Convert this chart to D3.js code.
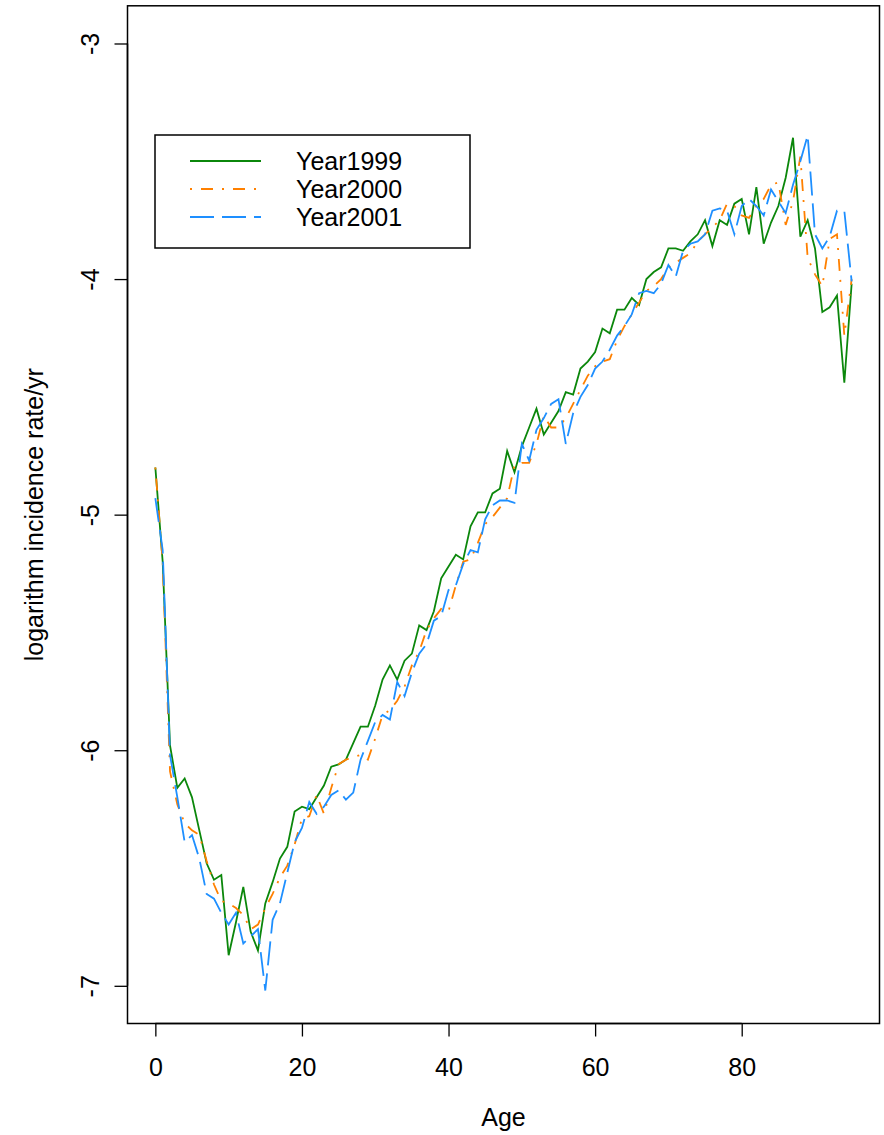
<!DOCTYPE html>
<html>
<head>
<meta charset="utf-8">
<script src="https://cdn.jsdelivr.net/npm/d3@7"></script>
<style>
  body { margin: 0; background: #fff; }
  svg { display: block; font-family: 'Liberation Sans', Arial, sans-serif; }
</style>
</head>
<body>
<script>
// ages 0..95
const ages = d3.range(0, 96);

const year1999 = [
  -4.80, -5.20, -5.98, -6.16, -6.12, -6.20, -6.34, -6.48, -6.55, -6.53,
  -6.87, -6.73, -6.58, -6.77, -6.85, -6.65, -6.56, -6.46, -6.41, -6.26,
  -6.24, -6.25, -6.20, -6.15, -6.07, -6.06, -6.04, -5.97, -5.90, -5.90,
  -5.81, -5.70, -5.64, -5.70, -5.62, -5.59, -5.47, -5.49, -5.41, -5.27,
  -5.22, -5.17, -5.19, -5.05, -4.99, -4.99, -4.91, -4.89, -4.73, -4.82,
  -4.71, -4.63, -4.55, -4.66, -4.61, -4.56, -4.48, -4.49, -4.38, -4.35,
  -4.31, -4.21, -4.23, -4.13, -4.13, -4.08, -4.11, -4.00, -3.97, -3.95,
  -3.87, -3.87, -3.88, -3.84, -3.81, -3.75, -3.86, -3.75, -3.77, -3.68,
  -3.66, -3.81, -3.61, -3.85, -3.76, -3.69, -3.57, -3.40, -3.82, -3.75,
  -3.87, -4.14, -4.12, -4.07, -4.44, -4.02
];

const year2000 = [
  -4.80, -5.20, -6.09, -6.23, -6.31, -6.34, -6.36, -6.47, -6.57, -6.64,
  -6.65, -6.67, -6.70, -6.76, -6.74, -6.67, -6.61, -6.54, -6.49, -6.40,
  -6.29, -6.28, -6.19, -6.27, -6.16, -6.06, -6.04, -6.03, -6.02, -6.04,
  -5.95, -5.85, -5.83, -5.79, -5.73, -5.64, -5.58, -5.49, -5.44, -5.40,
  -5.41, -5.30, -5.20, -5.19, -5.12, -5.04, -5.01, -4.97, -4.93, -4.79,
  -4.78, -4.78, -4.70, -4.58, -4.63, -4.63, -4.59, -4.53, -4.47, -4.41,
  -4.37, -4.35, -4.34, -4.26, -4.20, -4.15, -4.10, -4.05, -4.03, -4.00,
  -3.95, -3.93, -3.91, -3.89, -3.84, -3.81, -3.78, -3.75, -3.68, -3.69,
  -3.73, -3.74, -3.69, -3.66, -3.60, -3.59, -3.77, -3.67, -3.48, -3.91,
  -3.98, -4.03, -3.83, -3.81, -4.24, -4.00
];

const year2001 = [
  -4.93, -5.15, -6.02, -6.20, -6.39, -6.36, -6.46, -6.61, -6.63, -6.69,
  -6.74, -6.69, -6.82, -6.79, -6.76, -7.02, -6.72, -6.65, -6.52, -6.39,
  -6.33, -6.22, -6.27, -6.24, -6.19, -6.17, -6.21, -6.18, -6.04, -5.96,
  -5.88, -5.85, -5.87, -5.71, -5.77, -5.67, -5.59, -5.55, -5.45, -5.43,
  -5.32, -5.30, -5.21, -5.15, -5.16, -5.02, -4.96, -4.94, -4.94, -4.95,
  -4.70, -4.77, -4.64, -4.59, -4.53, -4.51, -4.70, -4.57, -4.50, -4.45,
  -4.38, -4.35, -4.30, -4.24, -4.20, -4.15, -4.06, -4.05, -4.06, -4.02,
  -3.94, -3.99, -3.88, -3.85, -3.84, -3.81, -3.71, -3.70, -3.71, -3.81,
  -3.69, -3.66, -3.69, -3.73, -3.62, -3.67, -3.72, -3.60, -3.50, -3.39,
  -3.81, -3.87, -3.82, -3.71, -3.71, -4.01
];

const seriesNames = ['Year1999', 'Year2000', 'Year2001'];
const xTicks = [0, 20, 40, 60, 80];
const yTicks = [-3, -4, -5, -6, -7];

const render = () => {
  const width = 884;
  const height = 1135;
  const fontSize = 25;

  const series = [
    { name: seriesNames[0], values: year1999, color: '#0b870b', dash: null },
    { name: seriesNames[1], values: year2000, color: '#ff8000', dash: '2,9,12,9' },
    { name: seriesNames[2], values: year2001, color: '#1e8fff', dash: '24,8' }
  ];

  const svg = d3.select('body')
    .append('svg')
    .attr('width', width)
    .attr('height', height);

  // plot region, R style: data range padded by 4%
  const xScale = d3.scaleLinear()
    .domain([-3.8, 98.8])
    .range([127.5, 879.5]);

  const yScale = d3.scaleLinear()
    .domain([-7.16, -2.84])
    .range([1023.5, 5.8]);

  const line = d3.line()
    .x((d, i) => xScale(ages[i]))
    .y(d => yScale(d));

  // lines
  svg.append('g')
    .selectAll('path')
    .data(series)
    .enter().append('path')
    .attr('d', d => line(d.values))
    .attr('fill', 'none')
    .attr('stroke', d => d.color)
    .attr('stroke-width', 1.8)
    .attr('stroke-dasharray', d => d.dash);

  // box
  svg.append('rect')
    .attr('x', xScale.range()[0])
    .attr('y', yScale.range()[1])
    .attr('width', xScale.range()[1] - xScale.range()[0])
    .attr('height', yScale.range()[0] - yScale.range()[1])
    .attr('fill', 'none')
    .attr('stroke', '#000')
    .attr('stroke-width', 1.5);

  // x axis
  const xAxis = d3.axisBottom(xScale)
    .tickValues(xTicks)
    .tickSize(13)
    .tickSizeOuter(0)
    .tickPadding(22);

  const xAxisG = svg.append('g')
    .attr('transform', `translate(0, ${yScale.range()[0]})`)
    .call(xAxis);
  xAxisG.select('.domain')
    .attr('d', `M${xScale(0)},0H${xScale(80)}`)
    .attr('stroke-width', 1.5);
  xAxisG.selectAll('.tick line').attr('stroke-width', 1.3);
  xAxisG.selectAll('text')
    .attr('font-size', fontSize)
    .attr('font-family', "'Liberation Sans', Arial, sans-serif")
    .attr('fill', '#000');

  // y axis, labels turned parallel to the axis, plain hyphen as minus
  const yAxis = d3.axisLeft(yScale)
    .tickValues(yTicks)
    .tickSize(13)
    .tickSizeOuter(0)
    .tickFormat(d => String(d));

  const yAxisG = svg.append('g')
    .attr('transform', `translate(${xScale.range()[0]}, 0)`)
    .call(yAxis);
  yAxisG.select('.domain')
    .attr('d', `M0,${yScale(-3)}V${yScale(-7)}`)
    .attr('stroke-width', 1.5);
  yAxisG.selectAll('.tick line').attr('stroke-width', 1.3);
  yAxisG.selectAll('text')
    .attr('x', null)
    .attr('dy', null)
    .attr('transform', 'translate(-38, 0) rotate(-90)')
    .attr('text-anchor', 'middle')
    .attr('dominant-baseline', 'central')
    .attr('font-size', fontSize)
    .attr('font-family', "'Liberation Sans', Arial, sans-serif")
    .attr('fill', '#000');

  // axis titles
  svg.append('text')
    .attr('x', (xScale.range()[0] + xScale.range()[1]) / 2)
    .attr('y', 1117)
    .attr('text-anchor', 'middle')
    .attr('dominant-baseline', 'central')
    .attr('font-size', fontSize)
    .text('Age');

  svg.append('text')
    .attr('transform', `translate(34, ${(yScale.range()[0] + yScale.range()[1]) / 2}) rotate(-90)`)
    .attr('text-anchor', 'middle')
    .attr('dominant-baseline', 'central')
    .attr('font-size', fontSize)
    .text('logarithm incidence rate/yr');

  // legend
  const legend = svg.append('g');
  legend.append('rect')
    .attr('x', 155)
    .attr('y', 135)
    .attr('width', 315)
    .attr('height', 113)
    .attr('fill', '#fff')
    .attr('stroke', '#000')
    .attr('stroke-width', 1.5);

  const items = legend.selectAll('g.item')
    .data(series)
    .enter().append('g')
    .attr('class', 'item')
    .attr('transform', (d, i) => `translate(0, ${161 + i * 28})`);

  items.append('line')
    .attr('x1', 190)
    .attr('x2', 261)
    .attr('stroke', d => d.color)
    .attr('stroke-width', 1.8)
    .attr('stroke-dasharray', d => d.dash);

  items.append('text')
    .attr('x', 296)
    .attr('dominant-baseline', 'central')
    .attr('font-size', fontSize)
    .text(d => d.name);
};

render();
</script>
</body>
</html>
